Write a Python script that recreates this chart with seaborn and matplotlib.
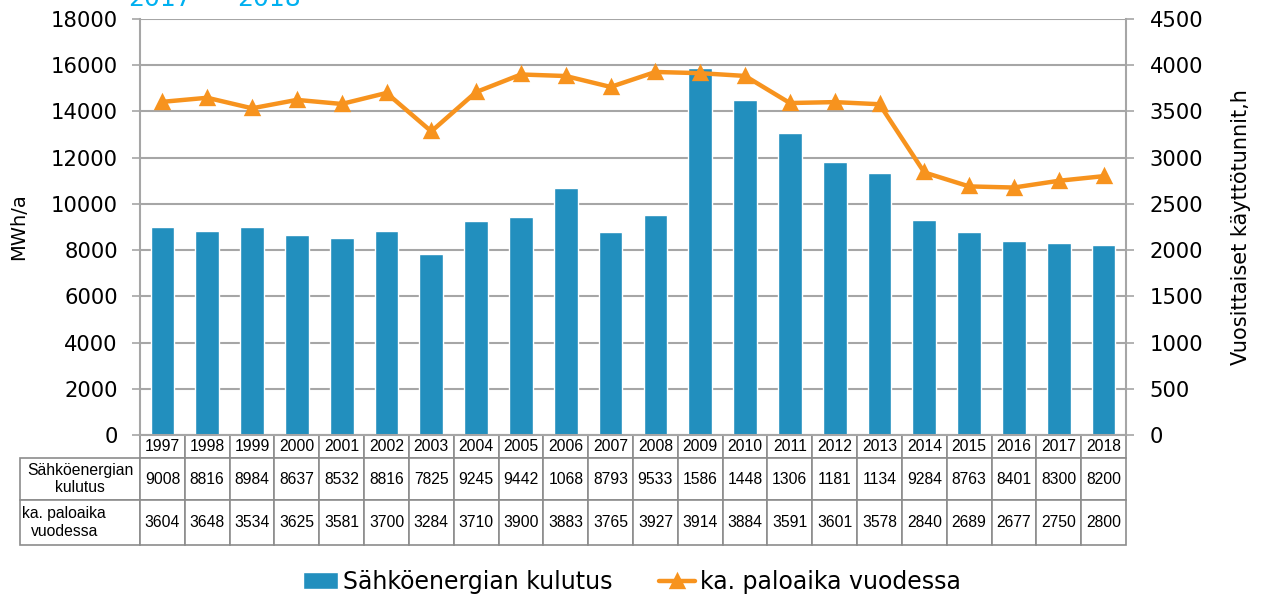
import numpy as np
import pandas as pd
import matplotlib
matplotlib.use("Agg")
import matplotlib.pyplot as plt
import seaborn as sns

years = [str(y) for y in range(1997, 2019)]
kulutus = [9008, 8816, 8984, 8637, 8532, 8816, 7825, 9245, 9442, 10680, 8793,
           9533, 15860, 14480, 13060, 11810, 11340, 9284, 8763, 8401, 8300, 8200]
paloaika = [3604, 3648, 3534, 3625, 3581, 3700, 3284, 3710, 3900, 3883, 3765,
            3927, 3914, 3884, 3591, 3601, 3578, 2840, 2689, 2677, 2750, 2800]
row_labels = ["Sähköenergian\nkulutus", "ka. paloaika\nvuodessa"]
bar_name = "Sähköenergian kulutus"
line_name = "ka. paloaika vuodessa"

df = pd.DataFrame({"vuosi": years, "kulutus": kulutus, "paloaika": paloaika})

sns.set_style("white")
plt.rcParams["font.family"] = ["DejaVu Sans"]
plt.rcParams["text.color"] = "black"
plt.rcParams["axes.labelcolor"] = "black"

W, H = 1263, 599
fig = plt.figure(figsize=(W / 100, H / 100), dpi=100)
L, R, T, B = 140, 1126, 19, 435
ax = fig.add_axes([L / W, 1 - B / H, (R - L) / W, (B - T) / H])

bar_col = "#228FBE"
line_col = "#F7931E"
grid_col = "#A6A6A6"

sns.barplot(data=df, x="vuosi", y="kulutus", color=bar_col, width=0.53,
            saturation=1, ax=ax, label=bar_name)
ax.set_ylim(0, 18000)
ax.set_yticks(np.arange(0, 18001, 2000))
ax.set_xlim(-0.5, len(years) - 0.5)
ax.yaxis.grid(True, color=grid_col, linewidth=1.5)
ax.set_axisbelow(True)
ax.set_xlabel("")
ax.set_ylabel("MWh/a", fontsize=14)
ax.yaxis.set_label_coords((28 - L) / (R - L), 0.5)
ax.set_xticks([])
for s in ["left", "right", "bottom"]:
    ax.spines[s].set_color(grid_col)
    ax.spines[s].set_linewidth(1.5)
ax.spines["top"].set_visible(False)
ax.tick_params(axis="y", left=True, length=6, color=grid_col, width=1.2,
               labelsize=15.2, labelcolor="black", pad=10)

ax2 = ax.twinx()
sns.pointplot(data=df, x="vuosi", y="paloaika", color=line_col, markers="^",
              linewidth=3.2, markersize=9, ax=ax2, label=line_name)
ax2.set_ylim(0, 4500)
ax2.set_yticks(np.arange(0, 4501, 500))
ax2.set_xlim(-0.5, len(years) - 0.5)
ax2.set_ylabel("Vuosittaiset käyttötunnit,h", fontsize=15)
ax2.yaxis.set_label_coords((1231 - L) / (R - L), 0.5)
ax2.set_xticks([])
ax2.set_xlabel("")
for s in ["left", "right", "bottom", "top"]:
    ax2.spines[s].set_visible(False)
ax2.tick_params(axis="y", right=True, length=6, color=grid_col, width=1.2,
                labelsize=15.2, labelcolor="black", pad=11)

# data table under the chart
cell_text = [[""] + years,
             [row_labels[0]] + [str(v)[:4] for v in kulutus],
             [row_labels[1]] + [str(v) for v in paloaika]]
tleft = 20
tbot = 545
tab = ax.table(cellText=cell_text, cellLoc="center",
               bbox=[(tleft - L) / (R - L), -(tbot - B) / (B - T),
                     (R - tleft) / (R - L), (tbot - B) / (B - T)])
tab.auto_set_font_size(False)
row_h = [23, 42, 45]
col_w = (R - L) / len(years)
for (r, c), cell in tab.get_celld().items():
    cell.set_height(row_h[r])
    cell.set_width(120 if c == 0 else col_w)
    cell.set_edgecolor("#8C8C8C")
    cell.set_linewidth(1.2)
    txt = cell.get_text()
    txt.set_fontfamily("Liberation Sans")
    txt.set_fontsize(11.3)
    txt.set_color("black")
    if c == 0:
        txt.set_multialignment("center")
        if r == 2:
            cell._loc = "left"
            cell.PAD = 0.02
            txt.set_horizontalalignment("left")
    if r == 0 and c == 0:
        cell.visible_edges = ""

fig.text(128 / W, 1 - 6 / H, "2017", color="#00B0F0", fontsize=18)
fig.text(237 / W, 1 - 6 / H, "2018", color="#00B0F0", fontsize=18)

h1, l1 = ax.get_legend_handles_labels()
h2, l2 = ax2.get_legend_handles_labels()
if ax2.get_legend():
    ax2.get_legend().remove()
if ax.get_legend():
    ax.get_legend().remove()
fig.legend(h1 + h2, l1 + l2, loc="center", bbox_to_anchor=(0.5, 1 - 582 / H),
           ncol=2, frameon=False, fontsize=17, columnspacing=2.0,
           handlelength=1.5, handletextpad=0.2)

fig.savefig("out.png", dpi=100)
